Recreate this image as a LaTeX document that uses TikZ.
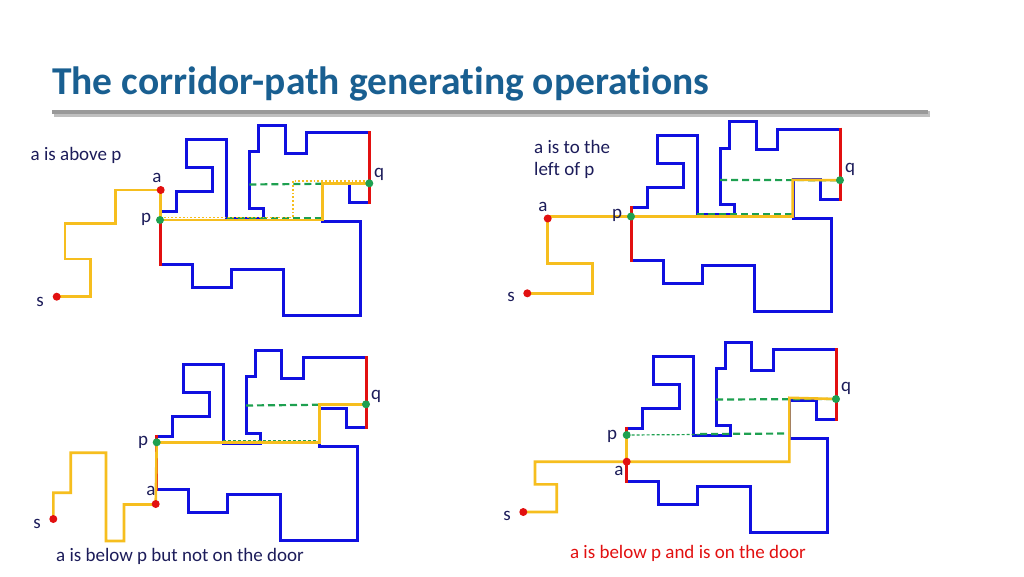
\documentclass[tikz,border=0pt]{standalone}
\usepackage{fontspec}
\setmainfont[Ligatures={NoCommon}]{Carlito}
\begin{document}
\begin{tikzpicture}[x=1pt,y=-1pt,
  poly/.style={draw=bl,line width=3pt,line join=miter},
  door/.style={draw=rd,line width=3pt},
  ypath/.style={draw=yl,line width=2.6pt,line join=miter},
  gdash/.style={draw=gr,line width=2.2pt,dash pattern=on 7pt off 4pt},
  gthin/.style={draw=gr,line width=1.2pt,dash pattern=on 3pt off 2pt},
  rdot/.style={circle,fill=rd,inner sep=0pt,minimum size=8pt},
  gdot/.style={circle,fill=gr,inner sep=0pt,minimum size=8pt},
  lab/.style={text=nv,font=\fontsize{19}{22}\selectfont,inner sep=0pt}]
\definecolor{bl}{RGB}{16,16,224}
\definecolor{rd}{RGB}{226,16,16}
\definecolor{yl}{RGB}{246,190,30}
\definecolor{gr}{RGB}{30,160,80}
\definecolor{nv}{RGB}{28,28,90}
\definecolor{tb}{RGB}{25,95,145}
\fill[white] (0,0) rectangle (1024,576);
\useasboundingbox (0,0) rectangle (1024,576);
\node[anchor=west,text=tb,font=\fontsize{39.5}{42}\selectfont\bfseries,inner sep=0pt] (title) at (52,84) {The corridor-path generating operations};
\fill[gray!50] (54,111) rectangle (930,117);
\fill[gray!80] (52,110) rectangle (928,114);
\newcommand{\polyg}[2]{%
\begin{scope}[shift={(#1,#2)}]
\draw[poly] (160,211)--(176,211)--(176,191)--(212.7,191)--(212.7,167.3)--(186.7,167.3)--(186.7,139.3)--(226.7,139.3)--(226.7,218.3)--(263.3,218.3)--(263.3,208.3)--(249.3,208.3)--(249.3,151.7)--(258.3,151.7)--(258.3,125)--(285,125)--(285,153.3)--(306.7,153.3)--(306.7,132.7)--(369.3,132.7);
\draw[poly] (369.3,202.7)--(349.3,202.7)--(349.3,183.3)--(322.7,183.3)--(322.7,221.7)--(360.7,221.7)--(360.7,315)--(283.3,315)--(283.3,269.3)--(231,269.3)--(231,287.3)--(192,287.3)--(192,264)--(160,264);
\draw[door] (160,209.5)--(160,265.5);
\draw[door] (369.3,131.2)--(369.3,204.2);
\end{scope}}
% panel TL
\polyg{0}{0}
\coordinate (tq) at (369.3,183.3);
\coordinate (tp) at (160,220);
\draw[gdash] (249.3,184.5)--(tq);
\draw[gdash] (226.7,218.5)--(322.7,218.5);
\draw[ypath] (56.7,296.7)--(90.7,296.7)--(90.7,259)--(65,259)--(65,223.3)--(115.7,223.3)--(115.7,190)--(160.7,190)--(160.7,220);
\draw[ypath] (tp)--(322.7,220)--(322.7,183.3)--(tq);
\draw[yl,line width=1.8pt,dotted] (160,217.5)--(292.7,217.5)--(292.7,181)--(369.3,181);
\node[rdot] (ts) at (56.7,296.7) {};
\node[rdot] (ta) at (160.7,190) {};
\node[gdot] (tpd) at (tp) {};
\node[gdot] (tqd) at (tq) {};
\node[lab] at (76,155) {a is above p};
\node[lab] at (157,178) {a};
\node[lab] at (146,219) {p};
\node[lab] at (379,174) {q};
\node[lab] at (40,302) {s};
% panel TR
\polyg{471}{-3.5}
\coordinate (rq) at (840,180.2);
\coordinate (rp) at (631,216.5);
\draw[gdash] (720,180)--(rq);
\draw[gdash] (697,214.5)--(792.7,214.5);
\draw[ypath] (527.3,293.3)--(592.7,293.3)--(592.7,263.3)--(547.7,263.3)--(547.7,216.5)--(rp);
\draw[ypath] (rp)--(792.7,216.5)--(792.7,179.8)--(rq);
\node[rdot] at (527.3,293.3) {};
\node[rdot] at (547.7,218.5) {};
\node[gdot] at (rp) {};
\node[gdot] at (rq) {};
\node[lab,anchor=west] at (534,147) {a is to the};
\node[lab,anchor=west] at (534,170) {left of p};
\node[lab] at (543,207) {a};
\node[lab] at (617,215) {p};
\node[lab] at (850,169) {q};
\node[lab] at (511,297) {s};
% panel BL
\polyg{-3.3}{225}
\coordinate (bq) at (366,404.3);
\coordinate (bp) at (156.7,442.3);
\draw[gdash] (246,405.5)--(bq);
\draw[gthin] (222.7,441)--(319.4,441);
\draw[ypath] (53.3,519)--(53.3,492.7)--(70.7,492.7)--(70.7,452.7)--(106,452.7)--(106,541)--(124,541)--(124,504.5)--(155.7,504.5)--(bp);
\draw[ypath] (bp)--(319.4,442.3)--(319.4,404.3)--(bq);
\node[rdot] at (53.3,519) {};
\node[rdot] at (155.7,504) {};
\node[gdot] at (bp) {};
\node[gdot] at (bq) {};
\node[lab] at (143,442) {p};
\node[lab] at (151,491) {a};
\node[lab] at (376,396) {q};
\node[lab] at (37,524) {s};
\node[lab] at (180,556) {a is below p but not on the door};
% panel BR
\polyg{466.7}{217}
\coordinate (eq) at (836,399);
\coordinate (ep) at (626.7,435);
\coordinate (ea) at (626.7,461.7);
\draw[gdash] (716,399.5)--(eq);
\draw[gthin] (ep)--(700,434.5);
\draw[gdash] (700,434)--(789.4,433.5);
\draw[ypath] (523.3,512)--(556.7,512)--(556.7,484.3)--(535,484.3)--(535,461.7)--(ea)--(789.4,461.7)--(789.4,397.8)--(eq);
\draw[ypath] (ea)--(ep);
\node[rdot] at (523.3,512) {};
\node[rdot] at (ea) {};
\node[gdot] at (ep) {};
\node[gdot] at (eq) {};
\node[lab] at (612,436) {p};
\node[lab] at (619,471) {a};
\node[lab] at (846,388) {q};
\node[lab] at (507,516) {s};
\node[lab,text=rd] at (688,553) {a is below p and is on the door};
\end{tikzpicture}
\end{document}
